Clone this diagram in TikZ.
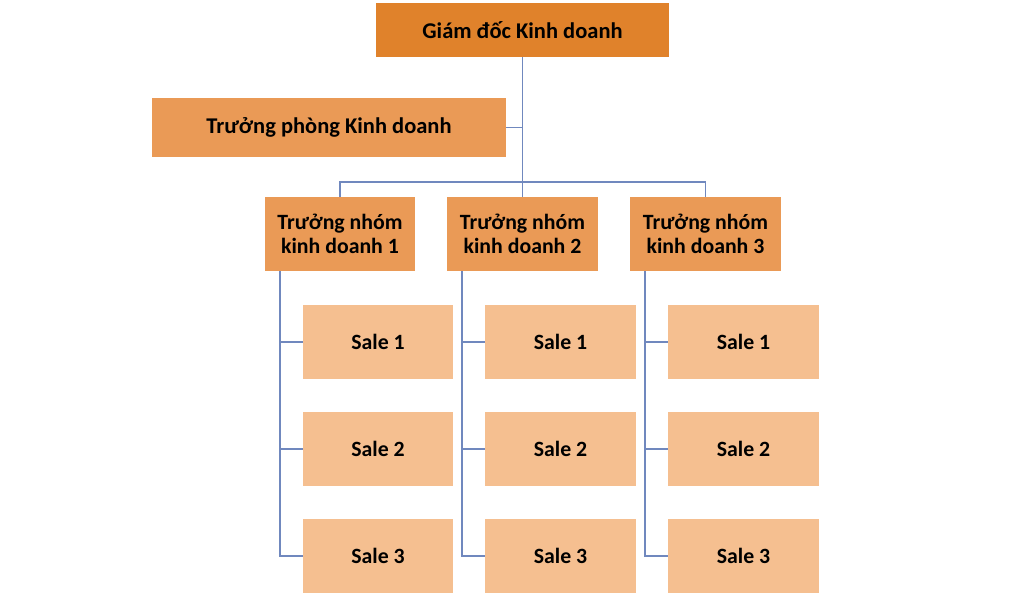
\documentclass[tikz,border=0pt]{standalone}
\usepackage{fontspec}
\setmainfont{Carlito}
\usetikzlibrary{positioning}

\definecolor{gdorange}{HTML}{E0822B}
\definecolor{tporange}{HTML}{EA9A56}
\definecolor{sale}{HTML}{F5BF90}
\definecolor{linkblue}{HTML}{7088BE}

\tikzset{
  box/.style={rectangle, inner sep=0pt, align=center, text=black,
    font=\fontsize{15.5}{17.5}\selectfont\bfseries},
  gdbox/.style={box, fill=gdorange, minimum width=7.325cm, minimum height=1.35cm,
    font=\fontsize{16}{18}\selectfont\bfseries},
  tpbox/.style={box, fill=tporange, minimum width=8.85cm, minimum height=1.475cm,
    font=\fontsize{16}{18}\selectfont\bfseries},
  headbox/.style={box, fill=tporange, minimum width=3.75cm, minimum height=1.85cm},
  salebox/.style={box, fill=sale, minimum width=3.75cm, minimum height=1.85cm},
  link/.style={draw=linkblue, line width=1.2pt}
}

\begin{document}
\begin{tikzpicture}[x=0.025cm, y=-0.025cm]

\useasboundingbox (0,0) rectangle (1024,601);

\node[gdbox] (gd) at (522.5,30) {Giám đốc Kinh doanh};
\node[tpbox] (tp) at (329,127.5) {Trưởng phòng Kinh doanh};
\coordinate (bus) at (522.5,182);

\draw[link] (gd.south) -- (bus);
\draw[link] (tp.east) -- (tp.east -| gd.south);

\foreach \c/\x in {1/340, 2/522.5, 3/705.5}{
  \node[headbox] (h\c) at (\x,234) {Trưởng nhóm\\kinh doanh \c};
  \foreach \r/\y in {1/342, 2/449, 3/556}
    \node[salebox] (s\c\r) at (\x+38,\y) {Sale \r};
  % nhanh doc ben trai
  \draw[link] ([xshift=0.375cm]h\c.south west) |- (s\c3.west);
  \draw[link] ([xshift=0.375cm]h\c.south west |- s\c1.west) -- (s\c1.west);
  \draw[link] ([xshift=0.375cm]h\c.south west |- s\c2.west) -- (s\c2.west);
}

\draw[link] (h1.north) -- (h1.north |- bus) -- (h3.north |- bus) -- (h3.north);
\draw[link] (bus) -- (h2.north);

\end{tikzpicture}
\end{document}
